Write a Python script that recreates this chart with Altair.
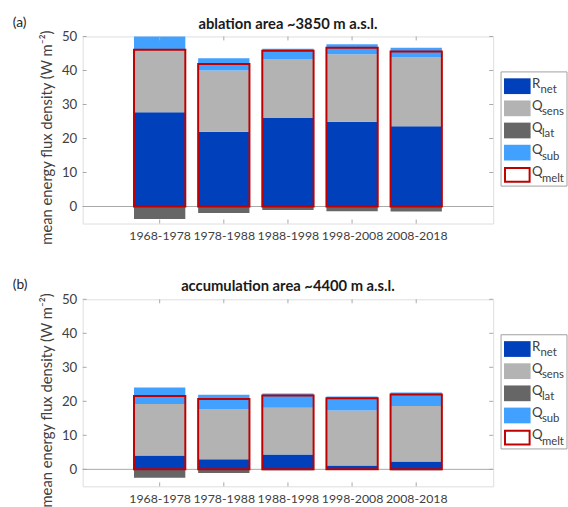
import json
import altair as alt
import pandas as pd

# ---------------- data ----------------
periods = ["1968-1978", "1978-1988", "1988-1998", "1998-2008", "2008-2018"]
components = ["Rnet", "Qsens", "Qlat", "Qsub"]
comp_main = ["R", "Q", "Q", "Q", "Q"]
comp_sub = ["net", "sens", "lat", "sub", "melt"]
comp_colors = ["#0040BA", "#B3B3B3", "#666666", "#42A1FF"]
melt_color = "#C00000"

# (a) ablation area
rnet_a = [27.7, 22.0, 26.0, 24.9, 23.6]
qsens_a = [18.3, 18.0, 17.2, 19.9, 20.2]
qlat_a = [-3.7, -1.9, -1.0, -1.4, -1.5]
qsub_a = [4.5, 3.6, 3.2, 2.9, 2.9]
qmelt_a = [46.1, 41.9, 45.8, 46.7, 45.6]

# (b) accumulation area
rnet_b = [4.1, 3.0, 4.4, 1.1, 2.3]
qsens_b = [15.1, 14.6, 13.7, 16.2, 16.3]
qlat_b = [-2.5, -1.1, -0.3, -0.2, -0.3]
qsub_b = [4.9, 4.3, 4.2, 4.1, 4.0]
qmelt_b = [21.6, 20.7, 21.7, 20.9, 22.0]

y_ticks = [0, 10, 20, 30, 40, 50]
x_idx = [1, 2, 3, 4, 5]

FONT = "Lato"
TEXT = "#404040"
AXC = "#A8A8A8"
W, H = 417, 190
BAR_HALF = 0.4


def panel(letter, title, rnet, qsens, qlat, qsub, qmelt):
    rows = []
    for i, p in enumerate(periods):
        vals = [rnet[i], qsens[i], qlat[i], qsub[i]]
        for k, (c, v) in enumerate(zip(components, vals)):
            rows.append({"idx": x_idx[i], "period": p, "component": c,
                         "order": k, "value": v})
    df = pd.DataFrame(rows)
    melt_df = pd.DataFrame({"idx": x_idx, "period": periods, "qmelt": qmelt})

    xscale = alt.Scale(domain=[-0.2, 6.2], nice=False, zero=False)
    yscale = alt.Scale(domain=[-5, 50], nice=False, zero=False)
    label_expr = json.dumps(periods) + "[datum.value - 1]"
    xaxis = alt.Axis(values=x_idx, labelExpr=label_expr, title=None, grid=False,
                     domain=False, ticks=False, labelFont=FONT, labelFontSize=12.5,
                     labelColor=TEXT, labelPadding=6, labelFlush=False,
                     labelOverlap=False)
    yaxis = alt.Axis(values=y_ticks, title="mean energy flux density  (W m⁻²)",
                     grid=False, domain=False, ticks=False, labelFont=FONT,
                     labelFontSize=13.5, labelColor=TEXT, labelPadding=6,
                     labelOverlap=False, labelFlush=False,
                     titleFont=FONT, titleFontSize=15, titleFontWeight="normal",
                     titleColor=TEXT, titlePadding=7,
                     titleY=H + 21, titleAlign="left")

    def X(f):
        return alt.X(f, scale=xscale, axis=xaxis)

    def Y(f):
        return alt.Y(f, scale=yscale, axis=yaxis)

    one = pd.DataFrame({"a": [0]})

    zero_line = alt.Chart(pd.DataFrame({"z": [0]})).mark_rule(
        color=AXC, strokeWidth=1
    ).encode(y=Y("z:Q"), x=alt.value(0), x2=alt.value(W))

    bars = alt.Chart(df).transform_stack(
        stack="value", groupby=["idx"], as_=["y0", "y1"],
        sort=[alt.SortField("order")]
    ).transform_calculate(
        xl=f"datum.idx - {BAR_HALF}", xr=f"datum.idx + {BAR_HALF}"
    ).mark_rect(clip=True).encode(
        x=X("xl:Q"), x2="xr:Q",
        y=Y("y0:Q"), y2="y1:Q",
        color=alt.Color("component:N", scale=alt.Scale(domain=components, range=comp_colors),
                        legend=None),
    )

    melt = alt.Chart(melt_df).transform_calculate(
        xl=f"datum.idx - {BAR_HALF}", xr=f"datum.idx + {BAR_HALF}", z="0"
    ).mark_rect(fill=None, stroke=melt_color, strokeWidth=2).encode(
        x=X("xl:Q"), x2="xr:Q",
        y=Y("z:Q"), y2="qmelt:Q",
    )

    ytick_df = pd.DataFrame({"t": y_ticks})
    ytl = alt.Chart(ytick_df).mark_rule(color=AXC).encode(
        y=Y("t:Q"), x=alt.value(0), x2=alt.value(4))
    ytr = alt.Chart(ytick_df).mark_rule(color=AXC).encode(
        y=Y("t:Q"), x=alt.value(W - 4), x2=alt.value(W))
    xtick_df = pd.DataFrame({"t": x_idx})
    xtb = alt.Chart(xtick_df).mark_rule(color=AXC).encode(
        x=X("t:Q"), y=alt.value(H - 4), y2=alt.value(H))
    xtt = alt.Chart(xtick_df).mark_rule(color=AXC).encode(
        x=X("t:Q"), y=alt.value(0), y2=alt.value(4))

    tag = alt.Chart(one).mark_text(
        font=FONT, fontSize=14, color="#262626", align="left", baseline="middle"
    ).encode(x=alt.value(-71), y=alt.value(-14), text=alt.value(letter))

    ttl = alt.Chart(one).mark_text(
        font=FONT, fontSize=15, fontWeight="bold", color="#1A1A1A",
        align="center", baseline="middle"
    ).encode(x=alt.value(W / 2), y=alt.value(-13), text=alt.value(title))

    # manual legend (for subscripts)
    lx0, lx1, ly0, ly1 = 425, 492, 36, 152
    row0, drow = 50.5, 22.5
    leg_layers = [
        alt.Chart(one).mark_rect(fill="white", stroke="#A0A0A0", strokeWidth=1).encode(
            x=alt.value(lx0), x2=alt.value(lx1), y=alt.value(ly0), y2=alt.value(ly1))
    ]
    for i in range(5):
        yc = row0 + drow * i
        if i < 4:
            sw = alt.Chart(one).mark_rect(fill=comp_colors[i]).encode(
                x=alt.value(428), x2=alt.value(455),
                y=alt.value(yc - 8), y2=alt.value(yc + 8))
        else:
            sw = alt.Chart(one).mark_rect(fill="white", stroke=melt_color, strokeWidth=2).encode(
                x=alt.value(429), x2=alt.value(454),
                y=alt.value(yc - 7), y2=alt.value(yc + 7))
        main = alt.Chart(one).mark_text(
            font=FONT, fontSize=13.5, color=TEXT, align="left", baseline="alphabetic"
        ).encode(x=alt.value(456.5), y=alt.value(yc + 1.5), text=alt.value(comp_main[i]))
        sub = alt.Chart(one).mark_text(
            font=FONT, fontSize=11.5, color=TEXT, align="left", baseline="alphabetic"
        ).encode(x=alt.value(465 if i == 0 else 466.5), y=alt.value(yc + 7),
                 text=alt.value(comp_sub[i]))
        leg_layers += [sw, main, sub]

    return alt.layer(zero_line, bars, melt, ytl, ytr, xtb, xtt, tag, ttl,
                     *leg_layers).properties(width=W, height=H)


pa = panel("(a)", "ablation area ~3850 m a.s.l.", rnet_a, qsens_a, qlat_a, qsub_a, qmelt_a)
pb = panel("(b)", "accumulation area ~4400 m a.s.l.", rnet_b, qsens_b, qlat_b, qsub_b, qmelt_b)

chart = alt.vconcat(pa, pb, spacing=33).properties(
    padding={"left": 12, "top": 11, "right": 0, "bottom": 0}
).configure_view(stroke=AXC, strokeWidth=1).configure(background="white")

chart.save("out.html", embed_options={"renderer": "svg", "actions": False})
